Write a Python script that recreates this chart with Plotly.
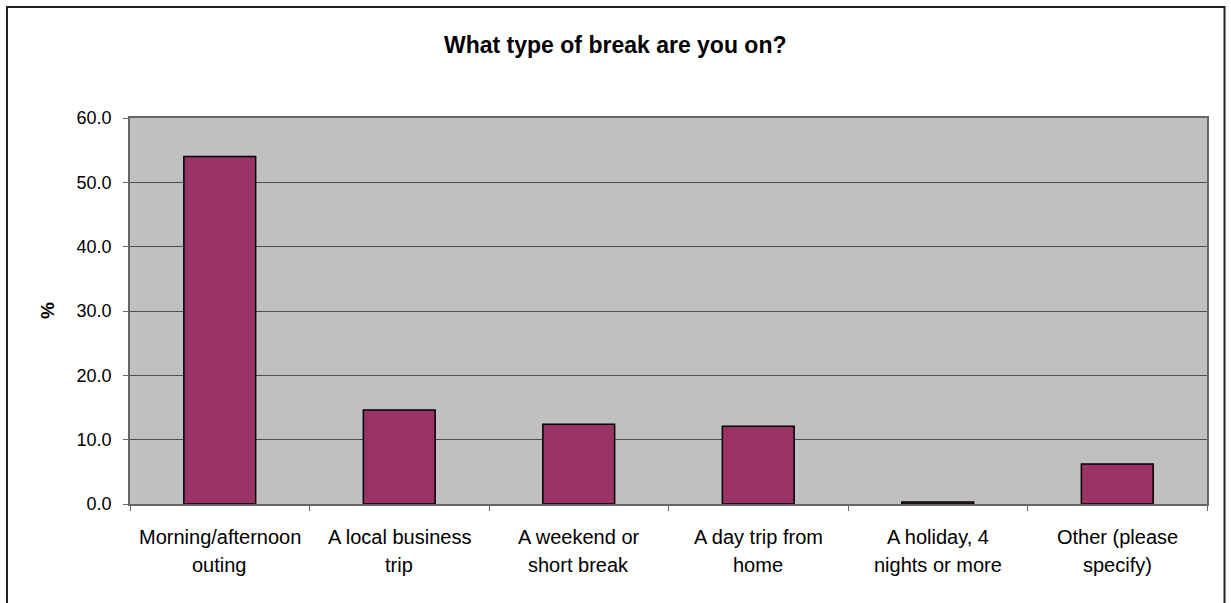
import plotly.graph_objects as go

label_lines = [
    ("Morning/afternoon", "outing"),
    ("A local business", "trip"),
    ("A weekend or", "short break"),
    ("A day trip from", "home"),
    ("A holiday, 4", "nights or more"),
    ("Other (please", "specify)"),
]
categories = [" ".join(l) for l in label_lines]
values = [54.0, 14.6, 12.4, 12.1, 0.3, 6.2]
y_ticks = [0, 10, 20, 30, 40, 50, 60]

W, H = 1231, 603
L, R, T, B = 130, 24, 118, 99
pw, ph = W - L - R, H - T - B

def px_x(x):
    return (x - L) / pw

def px_y(y):
    return (H - B - y) / ph

FONT = "Liberation Sans, Arial, sans-serif"

fig = go.Figure()
fig.add_trace(go.Bar(
    x=categories, y=values,
    marker=dict(color="#993366", line=dict(color="black", width=1.5)),
    hoverinfo="x+y",
))

annotations = []
for cat, lines in zip(categories, label_lines):
    for i, line in enumerate(lines):
        annotations.append(dict(
            x=cat, xref="x", y=0, yref="paper", yanchor="middle",
            xanchor="center",
            yshift=-33 - 28 * i, text=line, showarrow=False,
            font=dict(family=FONT, size=20, color="black"),
        ))
annotations.append(dict(
    x=px_x(47), xref="paper", y=px_y(310), yref="paper",
    xanchor="center", yanchor="middle",
    text="<b>%</b>", textangle=-90, showarrow=False,
    font=dict(family=FONT, size=19, color="black"),
))
annotations.append(dict(
    x=px_x(615), xref="paper", y=px_y(45), yref="paper",
    xanchor="center", yanchor="middle",
    text="<b>What type of break are you on?</b>", showarrow=False,
    font=dict(family=FONT, size=23, color="black"),
))

fig.update_layout(
    width=W, height=H,
    margin=dict(l=L, r=R, t=T, b=B, autoexpand=False),
    paper_bgcolor="white", plot_bgcolor="#C0C0C0",
    showlegend=False, bargap=0.6,
    annotations=annotations,
    shapes=[dict(
        type="rect", xref="paper", yref="paper",
        x0=px_x(7), x1=px_x(1224.5), y0=px_y(620), y1=px_y(7),
        line=dict(color="#222222", width=2), fillcolor="rgba(0,0,0,0)", layer="below",
    )],
    xaxis=dict(
        type="category", showticklabels=False, ticks="outside", ticklen=5,
        tickson="boundaries", tickcolor="#666666", showgrid=False,
        showline=True, linecolor="#666666", linewidth=1.5, mirror=True,
        zeroline=False,
    ),
    yaxis=dict(
        range=[0, 60], tickvals=y_ticks, tickformat=".1f",
        ticks="outside", ticklen=5, tickcolor="#666666",
        showgrid=True, gridcolor="#4d4d4d", gridwidth=1,
        showline=True, linecolor="#666666", linewidth=1.5, mirror=True,
        zeroline=False, ticklabelstandoff=8,
        tickfont=dict(family=FONT, size=18, color="black"),
    ),
)

fig.write_html("out.html")
